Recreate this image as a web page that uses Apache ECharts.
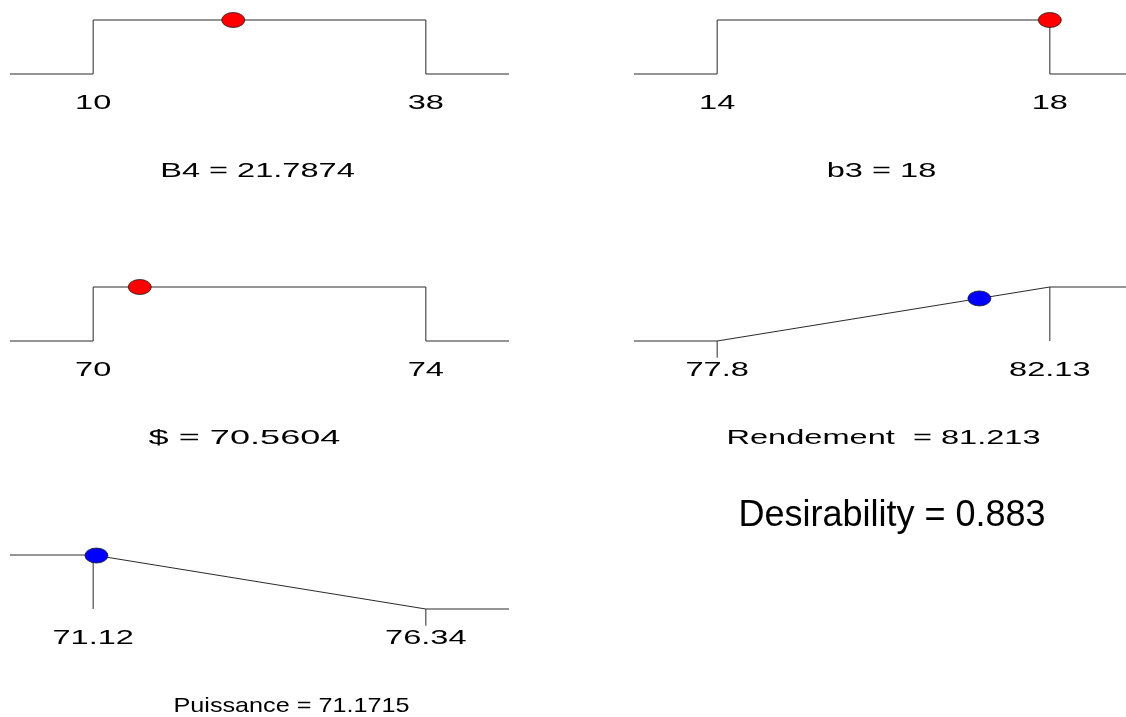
<!DOCTYPE html>
<html>
<head>
<meta charset="utf-8">
<title>Desirability profiles</title>
<script src="https://cdn.jsdelivr.net/npm/echarts@6/dist/echarts.min.js"></script>
<style>
  html, body { margin: 0; padding: 0; background: #ffffff; }
  #main { width: 1126px; height: 717px; }
</style>
</head>
<body>
<div id="main"></div>
<script>
// Response / factor settings for the desirability profiles
const factorNames = ['B4', 'b3', '$', 'Rendement ', 'Puissance'];
const goalTypes = ['range', 'range', 'range', 'maximize', 'minimize'];
const lowLimits = [10, 14, 70, 77.8, 71.12];
const highLimits = [38, 18, 74, 82.13, 76.34];
const lowLabels = ['10', '14', '70', '77.8', '71.12'];
const highLabels = ['38', '18', '74', '82.13', '76.34'];
const currentValues = [21.7874, 18, 70.5604, 81.213, 71.1715];
const currentLabels = ['21.7874', '18', '70.5604', '81.213', '71.1715'];
const pointDesirability = [1, 1, 1, 0.788, 0.990];
const overallDesirability = '0.883';

// Layout of the five small panels
const panelPos = [
  { left: 10, top: 20 },
  { left: 634, top: 20 },
  { left: 10, top: 287 },
  { left: 634, top: 287 },
  { left: 10, top: 555 }
];
const panelW = 499, panelH = 54;
const lineColor = '#2a2a2a';
const textColor = '#000000';
const labelFont = '"Liberation Sans", Arial, sans-serif';
const labelSize = 21;
const stretch = 1.55;          // wide, stretched label lettering
// per-panel caption tweaks (horizontal stretch, shift from panel centre)
const captionStyle = [
  { stretch: 1.55, dx: -2 },
  { stretch: 1.55, dx: -2 },
  { stretch: 1.72, dx: -15 },
  { stretch: 1.55, dx: 0 },
  { stretch: 1.2, dx: 32 }
];

const grids = [], xAxes = [], yAxes = [], series = [];

factorNames.forEach((name, i) => {
  const lo = lowLimits[i], hi = highLimits[i];
  const pad = (hi - lo) / 4;
  const xMin = lo - pad, xMax = hi + pad;

  grids.push({
    left: panelPos[i].left, top: panelPos[i].top, width: panelW, height: panelH,
    containLabel: false, outerBoundsMode: 'none'
  });
  xAxes.push({ type: 'value', gridIndex: i, min: xMin, max: xMax, show: false });
  yAxes.push({ type: 'value', gridIndex: i, min: 0, max: 1, show: false });

  // desirability function
  let fn;
  if (goalTypes[i] === 'range') {
    fn = [[xMin, 0], [lo, 0], [lo, 1], [hi, 1], [hi, 0], [xMax, 0]];
  } else if (goalTypes[i] === 'maximize') {
    fn = [[xMin, 0], [lo, 0], [hi, 1], [xMax, 1]];
  } else {
    fn = [[xMin, 1], [lo, 1], [hi, 0], [xMax, 0]];
  }
  series.push({
    type: 'line', xAxisIndex: i, yAxisIndex: i, data: fn,
    symbol: 'none', clip: false, silent: true,
    lineStyle: { color: lineColor, width: 1 }
  });

  // limit ticks on the ramp-shaped functions
  if (goalTypes[i] !== 'range') {
    const tickLen = -0.31;
    const ticks = goalTypes[i] === 'maximize'
      ? [[[lo, 0], [lo, tickLen]], [[hi, 1], [hi, 0]]]
      : [[[lo, 1], [lo, 0]], [[hi, 0], [hi, tickLen]]];
    ticks.forEach(seg => {
      series.push({
        type: 'line', xAxisIndex: i, yAxisIndex: i, data: seg,
        symbol: 'none', clip: false, silent: true,
        lineStyle: { color: lineColor, width: 1 }
      });
    });
  }

  // current setting
  series.push({
    type: 'scatter', xAxisIndex: i, yAxisIndex: i,
    data: [[currentValues[i], pointDesirability[i]]],
    symbol: 'circle', symbolSize: [23, 15], clip: false, z: 5,
    itemStyle: {
      color: goalTypes[i] === 'range' ? '#ff0000' : '#0000ff',
      borderColor: '#202020', borderWidth: 0.8, opacity: 1
    }
  });
});

const chart = echarts.init(document.getElementById('main'), null, { renderer: 'canvas' });
chart.setOption({
  backgroundColor: '#ffffff',
  animation: false,
  grid: grids,
  xAxis: xAxes,
  yAxis: yAxes,
  series: series
});

// Limit labels and value captions, placed through each panel's scales
const graphics = [];
factorNames.forEach((name, i) => {
  const pLo = chart.convertToPixel({ gridIndex: i }, [lowLimits[i], 0]);
  const pHi = chart.convertToPixel({ gridIndex: i }, [highLimits[i], 0]);
  const base = pLo[1];
  const mid = (pLo[0] + pHi[0]) / 2;
  [[pLo[0], lowLabels[i]], [pHi[0], highLabels[i]]].forEach(([x, txt]) => {
    graphics.push({
      type: 'text', x: x, y: base + 29, scaleX: stretch,
      style: { text: txt, fill: textColor, fontSize: labelSize, fontFamily: labelFont,
               textAlign: 'center', textVerticalAlign: 'middle' }
    });
  });
  graphics.push({
    type: 'text', x: mid + captionStyle[i].dx, y: base + 97, scaleX: captionStyle[i].stretch,
    style: { text: name + ' = ' + currentLabels[i], fill: textColor, fontSize: labelSize,
             fontFamily: labelFont, textAlign: 'center', textVerticalAlign: 'middle' }
  });
});
graphics.push({
  type: 'text', x: 892, y: 516,
  style: { text: 'Desirability = ' + overallDesirability, fill: textColor, fontSize: 36,
           fontFamily: labelFont, textAlign: 'center', textVerticalAlign: 'middle' }
});
chart.setOption({ graphic: graphics });
</script>
</body>
</html>
